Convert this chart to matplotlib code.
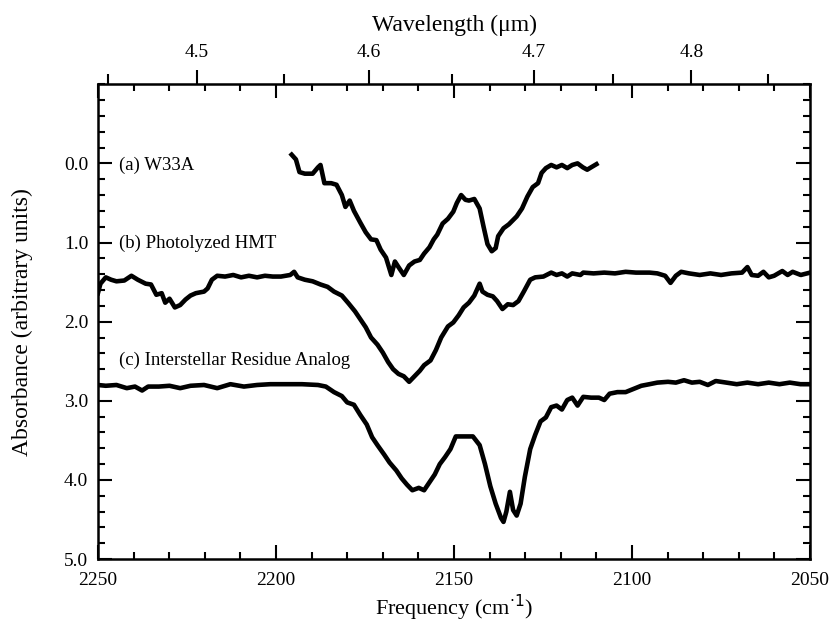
import numpy as np
import matplotlib
matplotlib.use('Agg')
import matplotlib.pyplot as plt
from matplotlib.ticker import MultipleLocator, FixedLocator, FormatStrFormatter

# data (frequency in cm-1, absorbance in arbitrary units)
freq_a = [2195.6, 2194.4, 2193.4, 2191.9, 2189.7, 2188.2, 2187.5, 2186.4, 2184.5, 2183.0,
          2181.5, 2180.5, 2179.3, 2178.1, 2176.3, 2174.8, 2173.3, 2171.8, 2170.6, 2169.1,
          2167.6, 2166.6, 2165.6, 2164.1, 2162.6, 2161.1, 2159.6, 2158.4, 2156.9, 2155.7,
          2154.7, 2153.2, 2151.7, 2150.2, 2149.2, 2148.0, 2146.8, 2145.8, 2144.3, 2142.8,
          2141.7, 2140.6, 2139.4, 2138.3, 2137.6, 2136.1, 2134.6, 2132.4, 2130.9, 2129.4,
          2127.9, 2126.4, 2125.4, 2124.2, 2122.7, 2121.2, 2119.7, 2118.2, 2116.8, 2115.3,
          2113.8, 2112.6, 2111.5, 2110.0]
abs_a = [-0.11, -0.05, 0.11, 0.13, 0.13, 0.05, 0.02, 0.25, 0.25, 0.27,
         0.40, 0.55, 0.47, 0.60, 0.75, 0.87, 0.96, 0.97, 1.09, 1.19,
         1.41, 1.24, 1.31, 1.41, 1.29, 1.24, 1.22, 1.14, 1.06, 0.96,
         0.90, 0.76, 0.70, 0.61, 0.50, 0.40, 0.46, 0.47, 0.45, 0.57,
         0.80, 1.02, 1.11, 1.07, 0.92, 0.82, 0.77, 0.67, 0.57, 0.42,
         0.30, 0.25, 0.12, 0.06, 0.02, 0.05, 0.02, 0.06, 0.02, 0.00,
         0.05, 0.08, 0.05, 0.01]

freq_b = [2250.0, 2249.3, 2247.8, 2246.3, 2244.8, 2242.6, 2240.6, 2238.8, 2236.6, 2235.1,
          2233.6, 2232.1, 2231.1, 2229.9, 2228.4, 2226.9, 2225.4, 2224.0, 2222.5, 2220.2,
          2219.2, 2218.0, 2216.5, 2214.3, 2212.0, 2209.8, 2207.6, 2205.3, 2203.1, 2200.9,
          2198.6, 2196.0, 2194.9, 2193.9, 2191.9, 2189.7, 2187.5, 2185.5, 2183.7, 2181.5,
          2179.6, 2177.8, 2176.3, 2174.8, 2173.3, 2171.5, 2170.0, 2168.5, 2167.1, 2165.6,
          2164.1, 2162.6, 2161.1, 2159.6, 2158.4, 2156.6, 2155.1, 2153.6, 2151.7, 2150.2,
          2148.7, 2147.3, 2145.8, 2144.3, 2142.8, 2142.0, 2140.6, 2139.1, 2137.9, 2136.4,
          2134.9, 2133.4, 2131.9, 2130.4, 2128.6, 2127.2, 2124.9, 2122.7, 2121.2, 2119.7,
          2118.2, 2116.8, 2114.5, 2113.7, 2110.8, 2107.8, 2104.8, 2101.8, 2098.9, 2095.1,
          2092.9, 2090.7, 2089.2, 2087.7, 2086.2, 2084.0, 2081.0, 2078.0, 2075.0, 2072.1,
          2069.1, 2067.6, 2066.4, 2064.6, 2063.1, 2061.6, 2060.1, 2057.8, 2056.3, 2054.9,
          2052.6, 2050.0]
abs_b = [1.64, 1.52, 1.44, 1.47, 1.49, 1.48, 1.42, 1.47, 1.52, 1.53,
         1.66, 1.64, 1.76, 1.71, 1.82, 1.79, 1.72, 1.67, 1.64, 1.62,
         1.58, 1.47, 1.42, 1.43, 1.41, 1.44, 1.42, 1.44, 1.42, 1.43,
         1.43, 1.41, 1.37, 1.44, 1.47, 1.49, 1.53, 1.56, 1.62, 1.67,
         1.77, 1.87, 1.97, 2.07, 2.20, 2.29, 2.39, 2.51, 2.60, 2.66,
         2.69, 2.76, 2.69, 2.62, 2.55, 2.49, 2.36, 2.20, 2.06, 2.01,
         1.92, 1.82, 1.76, 1.67, 1.52, 1.62, 1.66, 1.68, 1.74, 1.84,
         1.78, 1.79, 1.74, 1.62, 1.47, 1.44, 1.43, 1.38, 1.41, 1.39,
         1.43, 1.39, 1.41, 1.38, 1.39, 1.38, 1.39, 1.37, 1.38, 1.38,
         1.39, 1.42, 1.51, 1.42, 1.37, 1.39, 1.41, 1.39, 1.41, 1.39,
         1.38, 1.31, 1.41, 1.42, 1.37, 1.44, 1.42, 1.36, 1.41, 1.37,
         1.41, 1.38]

freq_c = [2250.0, 2247.8, 2244.8, 2241.9, 2239.6, 2237.6, 2235.9, 2232.9, 2229.9, 2226.9,
          2224.0, 2220.2, 2216.5, 2212.8, 2209.0, 2205.3, 2201.6, 2197.1, 2192.7, 2188.2,
          2186.0, 2183.7, 2181.5, 2180.0, 2178.1, 2176.3, 2174.5, 2173.0, 2171.5, 2169.6,
          2168.1, 2166.2, 2164.7, 2163.2, 2161.7, 2159.9, 2158.4, 2156.9, 2155.4, 2154.0,
          2152.5, 2151.0, 2149.5, 2148.0, 2146.5, 2144.7, 2142.8, 2141.3, 2139.8, 2138.3,
          2136.8, 2136.1, 2135.3, 2134.3, 2133.4, 2132.4, 2131.3, 2130.1, 2128.6, 2127.2,
          2125.7, 2124.2, 2122.7, 2121.2, 2119.7, 2118.2, 2116.8, 2115.3, 2113.7, 2111.5,
          2109.3, 2107.8, 2106.3, 2104.1, 2101.8, 2099.6, 2097.4, 2095.1, 2092.9, 2089.9,
          2087.7, 2085.4, 2083.2, 2081.0, 2078.7, 2076.5, 2073.5, 2070.6, 2067.6, 2064.6,
          2061.6, 2058.6, 2055.7, 2052.7, 2050.0]
abs_c = [2.80, 2.81, 2.80, 2.84, 2.82, 2.87, 2.82, 2.82, 2.81, 2.84,
         2.81, 2.80, 2.84, 2.79, 2.82, 2.80, 2.79, 2.79, 2.79, 2.80,
         2.82, 2.89, 2.94, 3.02, 3.05, 3.18, 3.30, 3.46, 3.56, 3.68,
         3.78, 3.88, 3.98, 4.06, 4.13, 4.10, 4.13, 4.03, 3.93, 3.80,
         3.71, 3.61, 3.45, 3.45, 3.45, 3.45, 3.56, 3.80, 4.08, 4.30,
         4.48, 4.53, 4.40, 4.15, 4.38, 4.45, 4.30, 3.96, 3.61, 3.43,
         3.26, 3.21, 3.08, 3.06, 3.11, 2.99, 2.96, 3.06, 2.95, 2.96,
         2.96, 2.99, 2.91, 2.89, 2.89, 2.85, 2.81, 2.79, 2.77, 2.76,
         2.77, 2.74, 2.77, 2.76, 2.80, 2.75, 2.77, 2.79, 2.77, 2.79,
         2.77, 2.79, 2.77, 2.79, 2.79]

labels = ['(a) W33A', '(b) Photolyzed HMT', '(c) Interstellar Residue Analog']
label_y = [0.02, 1.01, 2.49]

wl_major = [4.5, 4.6, 4.7, 4.8]
wl_minor = [4.45, 4.55, 4.65, 4.75, 4.85]

plt.rcParams['font.family'] = ['Liberation Serif', 'DejaVu Serif']

fig = plt.figure(figsize=(8.3, 6.24), dpi=100)
ax = fig.add_axes([0.118, 0.104, 0.858, 0.761])

for f, a in [(freq_a, abs_a), (freq_b, abs_b), (freq_c, abs_c)]:
    ax.plot(f, a, color='black', lw=3.3, solid_joinstyle='round')

for txt, yy in zip(labels, label_y):
    ax.text(2244.2, yy, txt, fontsize=13.5, va='center', ha='left')

ax.set_xlim(2250, 2050)
ax.set_ylim(5, -1)
ax.xaxis.set_major_locator(MultipleLocator(50))
ax.xaxis.set_minor_locator(MultipleLocator(10))
ax.set_yticks([0, 1, 2, 3, 4, 5])
ax.yaxis.set_minor_locator(MultipleLocator(0.2))
ax.yaxis.set_major_formatter(FormatStrFormatter('%.1f'))
ax.tick_params(which='both', direction='in', top=True, right=True, width=1.5,
               labelsize=14)
ax.tick_params(axis='x', pad=9)
ax.tick_params(axis='y', pad=7)
ax.tick_params(which='major', length=10)
ax.tick_params(which='minor', length=5)
for s in ax.spines.values():
    s.set_linewidth(1.8)

ax.set_xlabel('Frequency (cm$^{\\cdot 1}$)', fontsize=16, labelpad=3)
ax.set_ylabel('Absorbance (arbitrary units)', fontsize=17, labelpad=22)

sec = ax.secondary_xaxis('top', functions=(lambda f: 1e4 / f, lambda w: 1e4 / w))
sec.xaxis.set_major_locator(FixedLocator(wl_major))
sec.xaxis.set_minor_locator(FixedLocator(wl_minor))
sec.xaxis.set_major_formatter(FormatStrFormatter('%.1f'))
sec.tick_params(which='both', direction='out', width=1.5, labelsize=14, pad=7)
sec.tick_params(which='major', length=10)
sec.tick_params(which='minor', length=7)
sec.set_xlabel('Wavelength (\u03bcm)', fontsize=17, labelpad=9)

fig.savefig('out.png', dpi=100)
